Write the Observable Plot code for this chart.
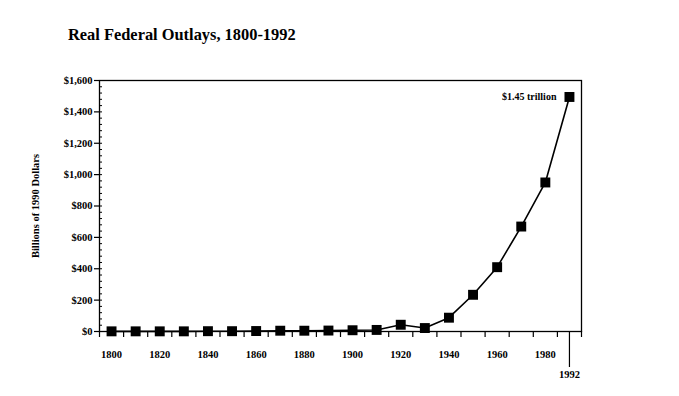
<!DOCTYPE html>
<html><head><meta charset="utf-8">
<script src="https://cdn.jsdelivr.net/npm/d3@7"></script>
<script src="https://cdn.jsdelivr.net/npm/@observablehq/plot@0.6"></script>
<style>
body{margin:0;background:#fff;}
#title{height:60px;position:relative;font-family:"Liberation Serif",serif;font-weight:bold;font-size:16.4px;line-height:17px;color:#000;}
#title span{position:absolute;left:68px;top:26px;white-space:nowrap;}
</style></head><body>
<div id="title"><span>Real Federal Outlays, 1800-1992</span></div>
<div id="chart"></div>
<script>
const years = ["1800","1810","1820","1830","1840","1850","1860","1870","1880","1890","1900","1910","1920","1930","1940","1950","1960","1970","1980","1992"];
const outlays = [1,1,1,1,2,2,3,5,5,6,8,10,43,22,88,234,410,669,950,1495];
const yTicks = [0,200,400,600,800,1000,1200,1400,1600];
const yMinorTicks = d3.range(0,1600,40);
const xLabelIndices = [0,2,4,6,8,10,12,14,16,18];
const annotation = "$1.45 trillion";
const yLabel = "Billions of 1990 Dollars";

const data = years.map((y,i)=>({i, year:y, value:outlays[i]}));
const last = years.length-1;

const chart = Plot.plot({
  width:679, height:336,
  marginLeft:99, marginRight:98, marginTop:20, marginBottom:65,
  style:{fontFamily:"Liberation Serif, serif", fontSize:"10.5px", color:"#000", background:"#fff"},
  x:{domain:[-0.5, years.length-0.5], axis:null},
  y:{domain:[0,1600], axis:null},
  marks:[
    Plot.frame({stroke:"#000", strokeWidth:1.3}),
    Plot.axisY({ticks:yTicks, tickSize:5, tickPadding:2, tickFormat:d=>"$"+d3.format(",")(d), label:null, fontWeight:"bold", strokeWidth:1.2}),
    Plot.axisY({ticks:yMinorTicks, tickSize:-3, tickFormat:()=>"", label:null}),
    Plot.text([yLabel],{frameAnchor:"left", rotate:-90, textAnchor:"middle", dx:-64, text:d=>d, fontSize:10.5, fontWeight:"bold"}),
    Plot.axisX({ticks:d3.range(-0.5, years.length, 1), tickSize:6, tickFormat:()=>"", label:null, strokeWidth:1.2}),
    Plot.axisX({ticks:xLabelIndices, tickSize:0, tickPadding:19, tickFormat:i=>years[i], label:null, fontWeight:"bold"}),
    Plot.axisX({ticks:[last], tickSize:36, tickPadding:3, tickFormat:i=>years[i], label:null, fontWeight:"bold", strokeWidth:1.2}),
    Plot.line(data,{x:"i",y:"value",stroke:"#000",strokeWidth:1.6}),
    Plot.dot(data,{x:"i",y:"value",symbol:"square",fill:"#000",r:5.6}),
    Plot.text([data[last]],{x:"i",y:"value",text:()=>annotation,textAnchor:"end",dx:-13,fontSize:10,fontWeight:"bold"})
  ]
});
document.getElementById("chart").appendChild(chart);
</script>
</body></html>
